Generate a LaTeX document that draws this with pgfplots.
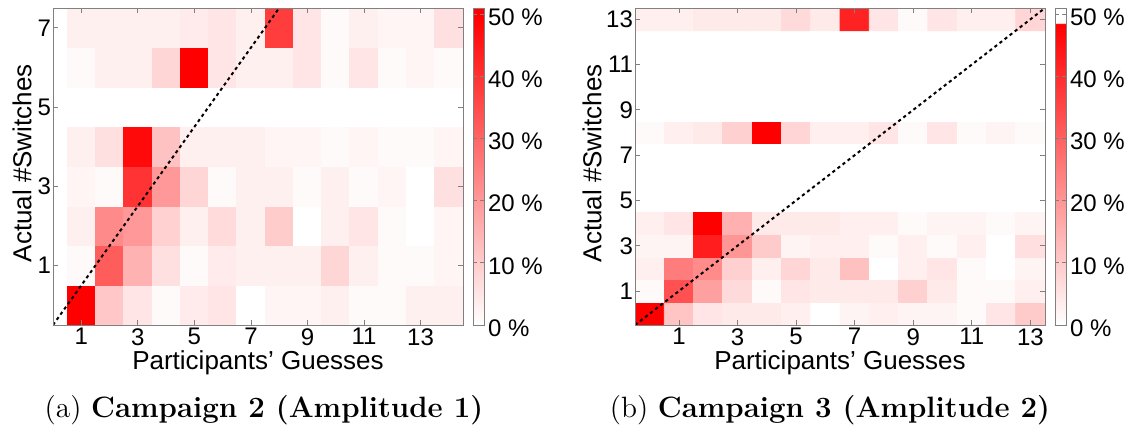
\documentclass[border=0pt]{standalone}
\usepackage{pgfplots}
\pgfplotsset{compat=1.18}
\usepackage{fontspec}
\newfontfamily\arial{Liberation Sans}

\pgfplotsset{
  heat/.style={
    scale only axis, width=205pt, height=158.5pt,
    axis line style={black!50}, tick style={black!50, line width=0.4pt},
    tick align=inside, major tick length=2.5pt,
    font=\arial\fontsize{12}{14}\selectfont,
    /pgf/number format/assume math mode=true,
    xticklabel style={inner sep=0pt, yshift=-1.5pt},
    yticklabel style={xshift=2.5pt},
    xlabel={Participants’ Guesses}, ylabel={Actual \#Switches},
    label style={font=\arial\fontsize{13}{15}\selectfont},
    xlabel style={at={(axis description cs:0.5,-0.139)}, anchor=base, inner sep=0pt},
    point meta min=0, point meta max=51,
    axis on top,
    colorbar,
    colorbar shift/.style={xshift=5pt},
    colorbar style={
      at={(parent axis.north east)}, anchor=north west,
      width=5.5pt,
      font=\arial\fontsize{12}{14}\selectfont,
      /pgf/number format/assume math mode=true,
      axis line style={black!50}, tick style={black!50, line width=0.4pt},
      tick align=inside, major tick length=2pt,
      ytick={0,10,...,50},
      yticklabel={\pgfmathprintnumber{\tick}~\%},
      yticklabel style={xshift=-1.5pt, yshift=-1.5pt},
    },
  },
  diag/.style={black, line width=1pt, dash pattern=on 1.6pt off 1.6pt},
}

\begin{document}
\begin{tikzpicture}
\path[use as bounding box] (-26.5pt,-52.5pt) rectangle (543.5pt,162.5pt);

% (a) Campaign 2: guesses 1..14, actual switches 0..7
\begin{axis}[heat, name=L, at={(0pt,0pt)}, anchor=south west,
  xmin=0, xmax=14.5, ymin=-0.5, ymax=7.5,
  xtick={1,3,...,13}, ytick={1,3,5,7},
  ylabel style={at={(axis description cs:-0.0756,0.51)}, anchor=center},
  colormap={wr}{rgb255(0pt)=(255,255,255) rgb255(50pt)=(255,0,0) rgb255(51pt)=(255,0,0)}]
\addplot[matrix plot*, mesh/cols=14, mesh/rows=8, point meta=explicit] coordinates {
(1,0) [50] (2,0) [11] (3,0) [5] (4,0) [1] (5,0) [4] (6,0) [5] (7,0) [0] (8,0) [2] (9,0) [2] (10,0) [3] (11,0) [1] (12,0) [1] (13,0) [3] (14,0) [3]
(1,1) [1] (2,1) [32] (3,1) [15] (4,1) [6] (5,1) [1] (6,1) [4] (7,1) [3] (8,1) [3] (9,1) [3] (10,1) [8] (11,1) [3] (12,1) [1] (13,1) [1] (14,1) [2]
(1,2) [3] (2,2) [23] (3,2) [20] (4,2) [9] (5,2) [3] (6,2) [7] (7,2) [3] (8,2) [10] (9,2) [0] (10,2) [3] (11,2) [5] (12,2) [1] (13,2) [0] (14,2) [2]
(1,3) [2] (2,3) [1] (3,3) [40] (4,3) [20] (5,3) [8] (6,3) [1] (7,3) [3] (8,3) [3] (9,3) [1] (10,3) [3] (11,3) [1] (12,3) [2] (13,3) [0] (14,3) [6]
(1,4) [3] (2,4) [6] (3,4) [48] (4,4) [12] (5,4) [3] (6,4) [3] (7,4) [3] (8,4) [2] (9,4) [2] (10,4) [1] (11,4) [2] (12,4) [1] (13,4) [1] (14,4) [2]
(1,5) [0] (2,5) [0] (3,5) [0] (4,5) [0] (5,5) [0] (6,5) [0] (7,5) [0] (8,5) [0] (9,5) [0] (10,5) [0] (11,5) [0] (12,5) [0] (13,5) [0] (14,5) [0]
(1,6) [1] (2,6) [3] (3,6) [3] (4,6) [8] (5,6) [50] (6,6) [5] (7,6) [3] (8,6) [3] (9,6) [5] (10,6) [1] (11,6) [5] (12,6) [1] (13,6) [2] (14,6) [1]
(1,7) [3] (2,7) [3] (3,7) [3] (4,7) [3] (5,7) [4] (6,7) [5] (7,7) [3] (8,7) [38] (9,7) [5] (10,7) [1] (11,7) [3] (12,7) [2] (13,7) [2] (14,7) [6]
};
\addplot[diag] coordinates {(0,-0.5) (8,7.5)};
\end{axis}

% (b) Campaign 3: guesses 0..13, actual switches 0..13
\begin{axis}[heat, name=R, at={(291pt,0pt)}, anchor=south west,
  xmin=-0.5, xmax=13.5, ymin=-0.5, ymax=13.5,
  xtick={1,3,...,13}, ytick={1,3,...,13},
  ylabel style={at={(axis description cs:-0.1049,0.51)}, anchor=center},
  colormap={wr2}{rgb255(0pt)=(255,255,255) rgb255(48.5pt)=(255,0,0) rgb255(48.6pt)=(255,255,255) rgb255(51pt)=(255,255,255)}]
\addplot[matrix plot*, mesh/cols=14, mesh/rows=14, point meta=explicit] coordinates {
(0,0) [48.5] (1,0) [11] (2,0) [5] (3,0) [4] (4,0) [4] (5,0) [3] (6,0) [0] (7,0) [2] (8,0) [3] (9,0) [2] (10,0) [2] (11,0) [1] (12,0) [5] (13,0) [10]
(0,1) [1] (1,1) [33] (2,1) [18] (3,1) [7] (4,1) [1] (5,1) [5] (6,1) [4] (7,1) [4] (8,1) [4] (9,1) [9] (10,1) [4] (11,1) [1] (12,1) [1] (13,1) [3]
(0,2) [3] (1,2) [25] (2,2) [22] (3,2) [9] (4,2) [3] (5,2) [8] (6,2) [4] (7,2) [12] (8,2) [0] (9,2) [3] (10,2) [5] (11,2) [1] (12,2) [0] (13,2) [2]
(0,3) [2] (1,3) [2] (2,3) [43] (3,3) [20] (4,3) [10] (5,3) [2] (6,3) [3] (7,3) [3] (8,3) [1] (9,3) [3] (10,3) [1] (11,3) [3] (12,3) [0] (13,3) [6]
(0,4) [3] (1,4) [5] (2,4) [48.5] (3,4) [15] (4,4) [4] (5,4) [4] (6,4) [4] (7,4) [3] (8,4) [3] (9,4) [1] (10,4) [2] (11,4) [2] (12,4) [1] (13,4) [2]
(0,5) [0] (1,5) [0] (2,5) [0] (3,5) [0] (4,5) [0] (5,5) [0] (6,5) [0] (7,5) [0] (8,5) [0] (9,5) [0] (10,5) [0] (11,5) [0] (12,5) [0] (13,5) [0]
(0,6) [0] (1,6) [0] (2,6) [0] (3,6) [0] (4,6) [0] (5,6) [0] (6,6) [0] (7,6) [0] (8,6) [0] (9,6) [0] (10,6) [0] (11,6) [0] (12,6) [0] (13,6) [0]
(0,7) [0] (1,7) [0] (2,7) [0] (3,7) [0] (4,7) [0] (5,7) [0] (6,7) [0] (7,7) [0] (8,7) [0] (9,7) [0] (10,7) [0] (11,7) [0] (12,7) [0] (13,7) [0]
(0,8) [1] (1,8) [3] (2,8) [4] (3,8) [9] (4,8) [48.5] (5,8) [8] (6,8) [3] (7,8) [3] (8,8) [5] (9,8) [1] (10,8) [5] (11,8) [1] (12,8) [2] (13,8) [1]
(0,9) [0] (1,9) [0] (2,9) [0] (3,9) [0] (4,9) [0] (5,9) [0] (6,9) [0] (7,9) [0] (8,9) [0] (9,9) [0] (10,9) [0] (11,9) [0] (12,9) [0] (13,9) [0]
(0,10) [0] (1,10) [0] (2,10) [0] (3,10) [0] (4,10) [0] (5,10) [0] (6,10) [0] (7,10) [0] (8,10) [0] (9,10) [0] (10,10) [0] (11,10) [0] (12,10) [0] (13,10) [0]
(0,11) [0] (1,11) [0] (2,11) [0] (3,11) [0] (4,11) [0] (5,11) [0] (6,11) [0] (7,11) [0] (8,11) [0] (9,11) [0] (10,11) [0] (11,11) [0] (12,11) [0] (13,11) [0]
(0,12) [0] (1,12) [0] (2,12) [0] (3,12) [0] (4,12) [0] (5,12) [0] (6,12) [0] (7,12) [0] (8,12) [0] (9,12) [0] (10,12) [0] (11,12) [0] (12,12) [0] (13,12) [0]
(0,13) [3] (1,13) [3] (2,13) [4] (3,13) [4] (4,13) [4] (5,13) [7] (6,13) [4] (7,13) [42] (8,13) [5] (9,13) [1] (10,13) [5] (11,13) [3] (12,13) [3] (13,13) [8]
};
\addplot[diag] coordinates {(-0.5,-0.5) (13.5,13.5)};
\end{axis}

\node at ([xshift=105.5pt,yshift=-42.5pt]L.south west)
  {\fontsize{14.7}{17}\selectfont (a) \textbf{Campaign 2 (Amplitude 1)}};
\node at ([xshift=97.5pt,yshift=-42.5pt]R.south west)
  {\fontsize{14.7}{17}\selectfont (b) \textbf{Campaign 3 (Amplitude 2)}};
\end{tikzpicture}
\end{document}
